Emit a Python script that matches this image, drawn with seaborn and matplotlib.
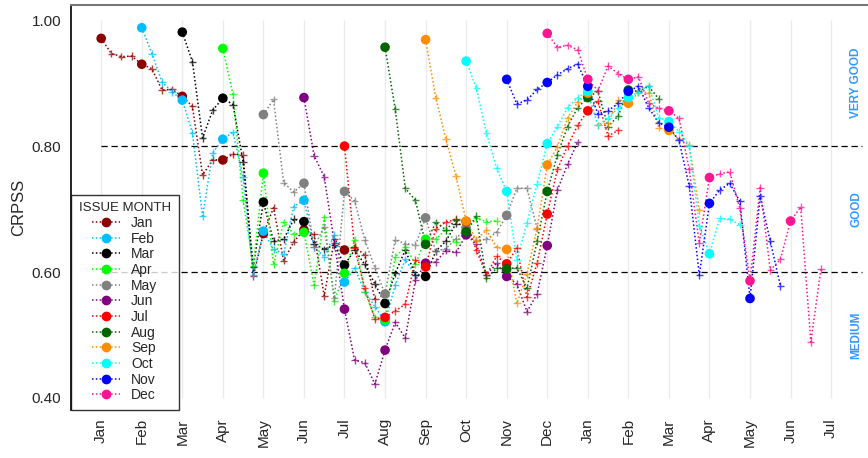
import numpy as np
import pandas as pd
import matplotlib
matplotlib.use('Agg')
import matplotlib.pyplot as plt
from matplotlib.lines import Line2D
import seaborn as sns

# x positions are month indices starting at Jan of the first year; weekly
# (quarter-month) steps, filled dots at month starts, "+" in between
issue_months = ['Jan', 'Feb', 'Mar', 'Apr', 'May', 'Jun',
                'Jul', 'Aug', 'Sep', 'Oct', 'Nov', 'Dec']
month_ticks = ['Jan', 'Feb', 'Mar', 'Apr', 'May', 'Jun', 'Jul', 'Aug', 'Sep',
               'Oct', 'Nov', 'Dec', 'Jan', 'Feb', 'Mar', 'Apr', 'May', 'Jun', 'Jul']
colors = ['#8B0000', '#00BFFF', '#000000', '#00FF00', '#808080', '#800080',
          '#FF0000', '#006400', '#FF8C00', '#00FFFF', '#0000FF', '#FF1493']

crpss_jan = [0.971, 0.947, 0.942, 0.943, 0.930, 0.923, 0.889, 0.890, 0.879, 0.863, 0.754, 0.778,
             0.778, 0.787, 0.786, 0.593, 0.661, 0.702, 0.618, 0.648, 0.667, 0.660, 0.562, 0.652,
             0.635, 0.640, 0.627, 0.557]
crpss_feb = [0.988, 0.947, 0.902, 0.886, 0.873, 0.821, 0.689, 0.789, 0.811, 0.822, 0.751, 0.595,
             0.665, 0.636, 0.629, 0.704, 0.714, 0.640, 0.624, 0.659, 0.584, 0.606, 0.569, 0.545,
             0.521, 0.579, 0.620, 0.595]
crpss_mar = [0.981, 0.934, 0.813, 0.857, 0.876, 0.866, 0.775, 0.608, 0.711, 0.649, 0.652, 0.684,
             0.680, 0.645, 0.636, 0.643, 0.611, 0.635, 0.612, 0.581, 0.550, 0.598, 0.635, 0.595,
             0.593, 0.633, 0.649, 0.677]
crpss_apr = [0.955, 0.882, 0.714, 0.610, 0.757, 0.612, 0.679, 0.660, 0.663, 0.579, 0.687, 0.554,
             0.598, 0.651, 0.569, 0.528, 0.524, 0.624, 0.640, 0.613, 0.652, 0.652, 0.667, 0.647,
             0.665, 0.685, 0.680, 0.681]
crpss_may = [0.850, 0.874, 0.742, 0.727, 0.741, 0.640, 0.672, 0.558, 0.728, 0.713, 0.651, 0.607,
             0.565, 0.651, 0.645, 0.643, 0.686, 0.633, 0.637, 0.653, 0.670, 0.650, 0.652, 0.663,
             0.690, 0.733, 0.733, 0.669]
crpss_jun = [0.877, 0.785, 0.751, 0.646, 0.541, 0.460, 0.456, 0.422, 0.476, 0.520, 0.495, 0.587,
             0.614, 0.616, 0.634, 0.631, 0.659, 0.645, 0.595, 0.614, 0.593, 0.581, 0.537, 0.565,
             0.642, 0.730, 0.771, 0.806]
crpss_jul = [0.800, 0.638, 0.574, 0.525, 0.528, 0.538, 0.549, 0.619, 0.608, 0.669, 0.679, 0.684,
             0.680, 0.635, 0.595, 0.625, 0.613, 0.638, 0.560, 0.614, 0.692, 0.763, 0.800, 0.833,
             0.856, 0.871, 0.816, 0.825]
crpss_aug = [0.957, 0.859, 0.733, 0.714, 0.644, 0.679, 0.667, 0.683, 0.664, 0.689, 0.590, 0.606,
             0.605, 0.607, 0.574, 0.649, 0.728, 0.786, 0.831, 0.861, 0.877, 0.887, 0.831, 0.848,
             0.889, 0.887, 0.895, 0.875]
crpss_sep = [0.969, 0.877, 0.811, 0.752, 0.681, 0.651, 0.667, 0.639, 0.636, 0.550, 0.597, 0.670,
             0.770, 0.799, 0.844, 0.870, 0.884, 0.833, 0.836, 0.873, 0.868, 0.885, 0.885, 0.829,
             0.825, 0.811, 0.802, 0.698]
crpss_oct = [0.935, 0.892, 0.821, 0.765, 0.728, 0.619, 0.678, 0.740, 0.804, 0.831, 0.861, 0.877,
             0.887, 0.833, 0.845, 0.860, 0.877, 0.886, 0.896, 0.845, 0.839, 0.823, 0.800, 0.673,
             0.629, 0.685, 0.684, 0.675]
crpss_nov = [0.906, 0.867, 0.873, 0.890, 0.901, 0.913, 0.923, 0.930, 0.895, 0.851, 0.856, 0.868,
             0.887, 0.895, 0.861, 0.837, 0.830, 0.809, 0.737, 0.595, 0.709, 0.730, 0.741, 0.712,
             0.558, 0.720, 0.649, 0.578]
crpss_dec = [0.979, 0.957, 0.960, 0.953, 0.906, 0.888, 0.927, 0.915, 0.906, 0.910, 0.868, 0.860,
             0.856, 0.844, 0.763, 0.646, 0.750, 0.756, 0.759, 0.701, 0.586, 0.734, 0.603, 0.620,
             0.681, 0.703, 0.489, 0.605]

all_series = [crpss_jan, crpss_feb, crpss_mar, crpss_apr, crpss_may, crpss_jun,
              crpss_jul, crpss_aug, crpss_sep, crpss_oct, crpss_nov, crpss_dec]

rows = []
for m, (name, vals) in enumerate(zip(issue_months, all_series)):
    for k, v in enumerate(vals):
        rows.append({'issue': name, 'x': m + k / 4.0, 'crpss': v,
                     'monthly': k % 4 == 0})
df = pd.DataFrame(rows)
palette = dict(zip(issue_months, colors))

sns.set_style('white')
plt.rcParams['font.family'] = ['Liberation Sans', 'DejaVu Sans']

fig = plt.figure(figsize=(8.68, 4.58), dpi=100)
ax = fig.add_axes([0.082, 0.105, 0.918, 0.884])

# light vertical grid at month starts
ax.vlines(range(len(month_ticks)), 0.4, 1.0, color='#EBEBEB', lw=1, zorder=0)

for name in issue_months:
    sub = df[df['issue'] == name]
    sns.lineplot(data=sub, x='x', y='crpss', color=palette[name], lw=1.1,
                 linestyle=(0, (1, 1.5)), ax=ax, legend=False, zorder=2)
sns.scatterplot(data=df[~df['monthly']], x='x', y='crpss', hue='issue',
                palette=palette, marker='+', s=28, linewidth=1.0, alpha=0.75,
                ax=ax, legend=False, zorder=3)
sns.scatterplot(data=df[df['monthly']], x='x', y='crpss', hue='issue',
                palette=palette, marker='o', s=48, edgecolor='none',
                ax=ax, legend=False, zorder=4)

# quality thresholds
ax.hlines([0.8, 0.6], 0, 18.75, colors='black', linestyles=(0, (5, 3)), lw=0.9, zorder=1)
for yv, lab in [(0.9, 'VERY GOOD'), (0.7, 'GOOD'), (0.5, 'MEDIUM')]:
    ax.text(18.62, yv, lab, rotation=90, ha='center', va='center', color='#3399FF',
            fontsize=8.5, fontweight='bold')

ax.set_xlim(-0.74, 18.91)
ax.set_ylim(0.381, 1.024)
ax.set_xticks(range(len(month_ticks)))
ax.set_xticklabels(month_ticks, rotation=90, fontsize=11)
ax.set_yticks([0.4, 0.6, 0.8, 1.0])
ax.set_yticklabels(['0.40', '0.60', '0.80', '1.00'], fontsize=11)
ax.set_xlabel('')
ax.set_ylabel('CRPSS', fontsize=12)
ax.tick_params(axis='y', length=5, width=1, color='black', pad=2)
ax.tick_params(axis='x', length=0, pad=6)
for side in ['right', 'bottom']:
    ax.spines[side].set_visible(False)
ax.spines['top'].set_color('#777777')
ax.spines['top'].set_linewidth(1.5)
ax.spines['left'].set_color('black')
ax.spines['left'].set_linewidth(1.2)

handles = [Line2D([0], [0], color=c, linestyle=(0, (1, 1.5)), lw=1.1, marker='o',
                  markersize=6) for c in colors]
leg = ax.legend(handles, issue_months, title='ISSUE MONTH', loc='lower left',
                bbox_to_anchor=(0.0, 0.0), borderaxespad=0.0, fontsize=10,
                title_fontsize=9.5, frameon=True, fancybox=False, edgecolor='black',
                handlelength=2.0, handletextpad=0.8, labelspacing=0.12,
                borderpad=0.55)
leg.get_frame().set_linewidth(1.0)
leg.set_zorder(5)

fig.savefig('out.png', dpi=100)
